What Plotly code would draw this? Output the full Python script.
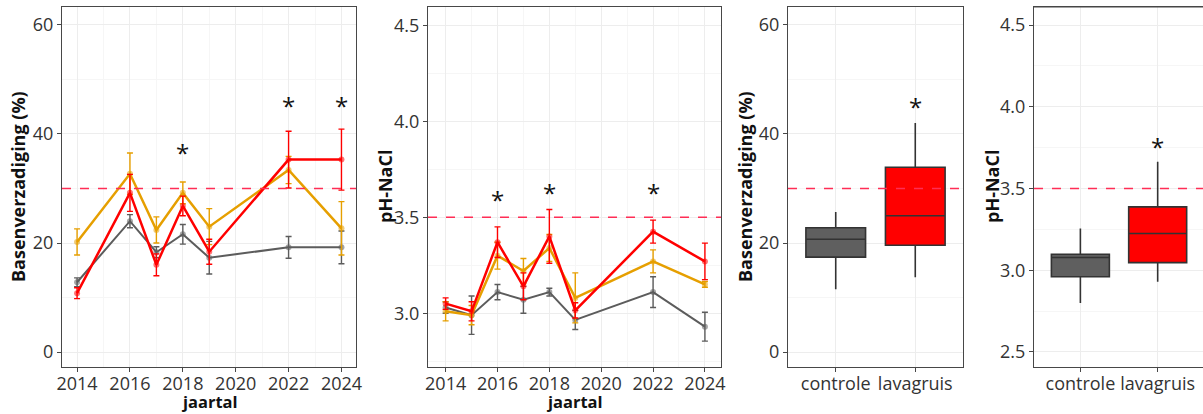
import plotly.graph_objects as go

# ---------------- data ----------------
bv_years = [2014, 2016, 2017, 2018, 2019, 2022, 2024]
bv_controle = [12.8, 24.0, 18.3, 21.6, 17.3, 19.2, 19.2]
bv_controle_err = [0.8, 1.2, 1.0, 1.8, 3.0, 2.0, 3.0]
bv_oranje = [20.2, 32.7, 22.4, 29.2, 23.0, 33.4, 22.7]
bv_oranje_err = [2.4, 3.8, 2.4, 2.0, 3.3, 2.5, 4.9]
bv_lava = [10.8, 29.2, 16.0, 26.8, 18.4, 35.3, 35.3]
bv_lava_err = [1.0, 3.4, 2.0, 1.8, 2.3, 5.2, 5.6]
bv_star_years = [2018, 2022, 2024]
bv_star_y = [36.7, 45.5, 45.5]

ph_years = [2014, 2015, 2016, 2017, 2018, 2019, 2022, 2024]
ph_controle = [3.03, 2.99, 3.11, 3.07, 3.11, 2.965, 3.11, 2.93]
ph_controle_err = [0.03, 0.10, 0.04, 0.07, 0.02, 0.05, 0.08, 0.075]
ph_oranje = [3.01, 2.99, 3.30, 3.22, 3.34, 3.08, 3.27, 3.15]
ph_oranje_err = [0.05, 0.05, 0.07, 0.065, 0.07, 0.13, 0.06, 0.015]
ph_lava = [3.05, 3.01, 3.37, 3.14, 3.40, 3.015, 3.425, 3.27]
ph_lava_err = [0.03, 0.05, 0.08, 0.07, 0.14, 0.04, 0.06, 0.095]
ph_star_years = [2016, 2018, 2022]
ph_star_y = [3.60, 3.633, 3.633]

groups = ["controle", "lavagruis"]
bv_box_low = [11.5, 13.7]
bv_box_q1 = [17.4, 19.6]
bv_box_med = [20.7, 25.0]
bv_box_q3 = [22.8, 33.9]
bv_box_high = [25.7, 42.0]
bv_box_star = ["lavagruis"]
bv_box_star_y = [45.3]

ph_box_low = [2.80, 2.93]
ph_box_q1 = [2.96, 3.047]
ph_box_med = [3.078, 3.225]
ph_box_q3 = [3.098, 3.388]
ph_box_high = [3.256, 3.664]
ph_box_star = ["lavagruis"]
ph_box_star_y = [3.766]

bv_threshold = 30
ph_threshold = 3.5

year_ticks = [2014, 2016, 2018, 2020, 2022, 2024]

# ---------------- styling ----------------
W, H = 1203, 414
GRAY = "#5c5c5c"
ORANGE = "#E69F00"
RED = "#FF0000"
DASH = "#FF2D55"
FRAME = "#474747"
TXT = "#333333"
FONT = "Open Sans"

def px(x):
    return x / W

def py(y):
    return 1 - y / H

ytop, ybot = 7, 367
ydom = [py(ybot), py(ytop)]

fig = go.Figure()

def series(xa, ya, x, y, err, color, lw, name):
    fig.add_trace(go.Scatter(
        x=x, y=y, xaxis=xa, yaxis=ya, mode="lines+markers", name=name,
        line=dict(color=color, width=lw),
        marker=dict(size=6, color=color, opacity=0.55),
        error_y=dict(type="data", array=err, visible=True, color=color,
                     thickness=1.4, width=3),
        showlegend=False, hoverinfo="skip"))

series("x", "y", bv_years, bv_controle, bv_controle_err, GRAY, 2.0, "controle")
series("x", "y", bv_years, bv_oranje, bv_oranje_err, ORANGE, 2.5, "oranje")
series("x", "y", bv_years, bv_lava, bv_lava_err, RED, 2.5, "lavagruis")

series("x2", "y2", ph_years, ph_controle, ph_controle_err, GRAY, 2.0, "controle")
series("x2", "y2", ph_years, ph_oranje, ph_oranje_err, ORANGE, 2.5, "oranje")
series("x2", "y2", ph_years, ph_lava, ph_lava_err, RED, 2.5, "lavagruis")

box_fill = ["#5f5f5f", "#FF0000"]

def boxes(xa, ya, low, q1, med, q3, high):
    for i, g in enumerate(groups):
        fig.add_trace(go.Box(
            x=[g], q1=[q1[i]], median=[med[i]], q3=[q3[i]],
            lowerfence=[low[i]], upperfence=[high[i]],
            xaxis=xa, yaxis=ya, fillcolor=box_fill[i],
            line=dict(color="#333333", width=1.6), whiskerwidth=0,
            width=0.75, boxpoints=False, showlegend=False, hoverinfo="skip"))

boxes("x3", "y3", bv_box_low, bv_box_q1, bv_box_med, bv_box_q3, bv_box_high)
boxes("x4", "y4", ph_box_low, ph_box_q1, ph_box_med, ph_box_q3, ph_box_high)

def stars(xa, ya, xs, ys):
    for xv, yv in zip(xs, ys):
        fig.add_annotation(x=xv, y=yv, xref=xa, yref=ya, text="*",
                           showarrow=False, yshift=-1,
                           font=dict(family=FONT, size=24, color="#111111"))

stars("x", "y", bv_star_years, bv_star_y)
stars("x2", "y2", ph_star_years, ph_star_y)
stars("x3", "y3", bv_box_star, bv_box_star_y)
stars("x4", "y4", ph_box_star, ph_box_star_y)

tickfont = dict(family=FONT, size=18, color=TXT)

def xaxis_num(dom, rng):
    return dict(domain=dom, range=rng, tickvals=year_ticks, ticks="outside",
                ticklen=4, tickcolor=FRAME, tickfont=tickfont,
                ticklabelstandoff=-4,
                showline=True, linecolor=FRAME, linewidth=1.2, mirror=True,
                showgrid=True, gridcolor="#ededed", gridwidth=1,
                minor=dict(dtick=1, showgrid=True, gridcolor="#f6f6f6"),
                zeroline=False, automargin=False, fixedrange=True)

def yaxis(anchor, rng, tv, tt, mirror=True, minor_dt=None):
    d = dict(domain=ydom, range=rng, anchor=anchor, tickvals=tv, ticktext=tt,
             ticks="outside", ticklen=4, tickcolor=FRAME, tickfont=tickfont,
             showline=True, linecolor=FRAME, linewidth=1.2, mirror=mirror,
             showgrid=True, gridcolor="#ededed", gridwidth=1,
             zeroline=False, automargin=False, fixedrange=True)
    if minor_dt:
        d["minor"] = dict(dtick=minor_dt, showgrid=True, gridcolor="#f6f6f6")
    return d

def xaxis_cat(dom, rng, mirror=True):
    return dict(domain=dom, range=rng, type="category",
                categoryorder="array", categoryarray=groups,
                ticks="outside", ticklen=4, tickcolor=FRAME, tickfont=tickfont,
                ticklabelstandoff=-4,
                showline=True, linecolor=FRAME, linewidth=1.2, mirror=mirror,
                showgrid=True, gridcolor="#ededed", zeroline=False,
                automargin=False, fixedrange=True)

bv_tv = [0, 20, 40, 60]
bv_tt = ["0", "20", "40", "60"]
ph_tv = [3.0, 3.5, 4.0, 4.5]
ph_tt = ["3.0", "3.5", "4.0", "4.5"]
ph4_tv = [2.5, 3.0, 3.5, 4.0, 4.5]
ph4_tt = ["2.5", "3.0", "3.5", "4.0", "4.5"]

fig.update_layout(
    width=W, height=H, margin=dict(l=0, r=0, t=0, b=0),
    paper_bgcolor="white", plot_bgcolor="white",
    font=dict(family=FONT, color=TXT),
    xaxis=dict(anchor="y", **xaxis_num([px(62), px(356)], [2013.43, 2024.55])),
    yaxis=yaxis("x", [-2.75, 63.3], bv_tv, bv_tt, minor_dt=10),
    xaxis2=dict(anchor="y2", **xaxis_num([px(428), px(721)], [2013.32, 2024.62])),
    yaxis2=yaxis("x2", [2.72, 4.595], ph_tv, ph_tt, minor_dt=0.25),
    xaxis3=dict(anchor="y3", **xaxis_cat([px(788), px(963)], [-0.6, 1.6])),
    yaxis3=yaxis("x3", [-2.75, 63.3], bv_tv, bv_tt, minor_dt=10),
    xaxis4=dict(anchor="y4", **xaxis_cat([px(1034), 1.0], [-0.6, -0.6 + (W - 1034) / 77.3])),
    yaxis4=yaxis("x4", [2.408, 4.611], ph4_tv, ph4_tt, mirror=False, minor_dt=0.25),
)

# top frame line for the cut-off last panel
fig.add_shape(type="line", xref="x4 domain", yref="y4 domain", x0=0, x1=1.05,
              y0=1, y1=1, line=dict(color=FRAME, width=1.2))

# threshold dashed lines
for xa, ya, thr in [("x", "y", bv_threshold), ("x2", "y2", ph_threshold),
                    ("x3", "y3", bv_threshold), ("x4", "y4", ph_threshold)]:
    fig.add_shape(type="line", xref=f"{xa} domain", yref=ya, x0=0, x1=1,
                  y0=thr, y1=thr, line=dict(color=DASH, width=1.6, dash="dash"),
                  layer="above")

# axis titles
tfont = dict(family=FONT, size=18, color="#111111", weight="bold")
ymid = py((ytop + ybot) / 2)
for xpix, label in [(18, "Basenverzadiging (%)"), (385, "pH-NaCl"),
                    (745, "Basenverzadiging (%)"), (992, "pH-NaCl")]:
    fig.add_annotation(x=px(xpix), y=ymid, xref="paper", yref="paper",
                       text=label, textangle=-90, showarrow=False, font=tfont,
                       xanchor="center", yanchor="middle")
xfont = dict(family=FONT, size=16.5, color="#111111", weight="bold")
for xpix in [209, 574.5]:
    fig.add_annotation(x=px(xpix), y=0, xref="paper", yref="paper",
                       text="jaartal", showarrow=False, font=xfont,
                       xanchor="center", yanchor="bottom", borderpad=0)

fig.write_html("out.html",
               config={"displayModeBar": False},
               post_script="document.body.style.margin='0';"
                           "document.body.style.overflow='hidden';")
